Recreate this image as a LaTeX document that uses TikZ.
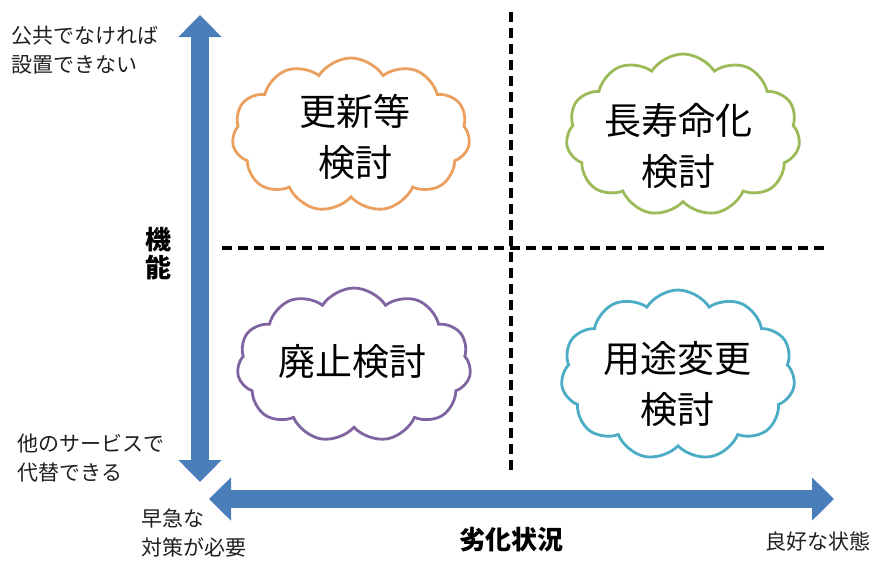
\documentclass[tikz,border=0pt]{standalone}
\usepackage{fontspec}
\newfontfamily\jp{Noto Sans CJK JP}
\usetikzlibrary{arrows.meta,shapes.symbols}
\definecolor{axisblue}{HTML}{4A7EBB}
\definecolor{corange}{HTML}{EBA060}
\definecolor{cgreen}{HTML}{9BBB59}
\definecolor{cpurple}{HTML}{8064A2}
\definecolor{cblue}{HTML}{4BACC6}
\tikzset{
  axisarrow/.style={draw=axisblue, line width=18pt,
    {Triangle[length=22pt,width=42pt]}-{Triangle[length=22pt,width=42pt]}},
  quadline/.style={draw=black, line width=3.2pt, dash pattern=on 10pt off 6pt},
  bubble/.style={cloud, cloud puffs=11, cloud puff arc=115, aspect=1.55,
    draw=#1, fill=white, line width=2.8pt, inner sep=0pt},
  bubbletext/.style={font=\jp\fontsize{37}{51}\selectfont, align=center, text=black},
  sidelabel/.style={font=\jp\fontsize{21}{29}\selectfont, align=left, text=black!88},
  axislabel/.style={font=\jp\bfseries\fontsize{26}{28}\selectfont, text=black}
}
\begin{document}
\begin{tikzpicture}[x=1pt,y=-1pt]
\useasboundingbox (0,0) rectangle (877,563);
% dashed quadrant lines
\coordinate (vtop) at (511,12);
\coordinate (vbot) at (511,472);
\coordinate (hleft) at (222,248);
\coordinate (hright) at (828,248);
\draw[quadline] (vtop) -- (vbot);
\draw[quadline] (hleft) -- (hright);
% axes
\coordinate (ytop) at (200,15);
\coordinate (ybot) at (200,482);
\coordinate (xleft) at (209,499);
\coordinate (xright) at (834,499);
\draw[axisarrow] (ybot) -- (ytop);
\draw[axisarrow] (xleft) -- (xright);
% clouds
\node[bubble=corange, minimum width=238pt, minimum height=154pt] (c1) at (351,135) {};
\node[bubble=cgreen, minimum width=234pt, minimum height=162pt] (c2) at (683,135) {};
\node[bubble=cpurple, minimum width=234pt, minimum height=154pt] (c3) at (354,365) {};
\node[bubble=cblue, minimum width=234pt, minimum height=170pt] (c4) at (678,375) {};
\node[bubbletext] (t1) at (355,137) {更新等\\検討};
\node[bubbletext] (t2) at (678,146) {長寿命化\\検討};
\node[bubbletext] (t3) at (352,362) {廃止検討};
\node[bubbletext] (t4) at (677,384) {用途変更\\検討};
% axis labels
\node[axislabel, align=center] (fn) at (158,254) {機\\能};
\node[axislabel] (deg) at (511,540) {劣化状況};
% end labels
\node[sidelabel, anchor=west] (l1) at (8,50) {公共でなければ\\設置できない};
\node[sidelabel, anchor=west] (l2) at (14,458) {他のサービスで\\代替できる};
\node[sidelabel, anchor=west] (l3) at (138,533) {早急な\\対策が必要};
\node[sidelabel, anchor=east] (l4) at (874,541) {良好な状態};
\end{tikzpicture}
\end{document}
